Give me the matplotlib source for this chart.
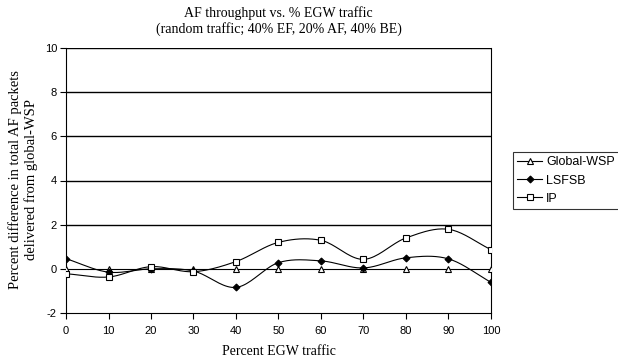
import numpy as np
import matplotlib
matplotlib.use("Agg")
import matplotlib.pyplot as plt

plt.rcParams["axes.unicode_minus"] = False

# Dados
egw = [0, 10, 20, 30, 40, 50, 60, 70, 80, 90, 100]
global_wsp = [0, 0, 0, 0, 0, 0, 0, 0, 0, 0, 0]
lsfsb = [0.46, -0.15, 0.0, -0.1, -0.84, 0.28, 0.36, 0.04, 0.5, 0.45, -0.61]
ip = [-0.22, -0.37, 0.1, -0.13, 0.33, 1.2, 1.29, 0.43, 1.4, 1.79, 0.87]


# Linha suavizada estilo Excel (Catmull-Rom)
def smooth(x, y, n=20):
    x = np.asarray(x, float)
    y = np.asarray(y, float)
    px = np.concatenate([[2 * x[0] - x[1]], x, [2 * x[-1] - x[-2]]])
    py = np.concatenate([[2 * y[0] - y[1]], y, [2 * y[-1] - y[-2]]])
    xs, ys = [], []
    t = np.linspace(0, 1, n, endpoint=False)
    for i in range(1, len(px) - 2):
        for p, out in ((px, xs), (py, ys)):
            p0, p1, p2, p3 = p[i - 1], p[i], p[i + 1], p[i + 2]
            out.extend(0.5 * (2 * p1 + (-p0 + p2) * t
                              + (2 * p0 - 5 * p1 + 4 * p2 - p3) * t ** 2
                              + (-p0 + 3 * p1 - 3 * p2 + p3) * t ** 3))
    xs.append(x[-1])
    ys.append(y[-1])
    return xs, ys


serif = "Liberation Serif"
sans = "Liberation Sans"
W, H = 618, 360

fig = plt.figure(figsize=(6.18, 3.6), dpi=100)
ax = fig.add_axes([66 / W, 1 - 313 / H, 425 / W, 265 / H])

for yy in [2, 4, 6, 8, 10]:
    ax.axhline(yy, color="black", lw=1.0, zorder=1)

series = [
    ("Global-WSP", global_wsp, dict(marker="^", mfc="white", ms=5)),
    ("LSFSB", lsfsb, dict(marker="D", mfc="black", ms=3.5)),
    ("IP", ip, dict(marker="s", mfc="white", ms=5)),
]
for name, vals, st in series:
    sx, sy = smooth(egw, vals)
    ax.plot(sx, sy, color="black", lw=0.8, zorder=2)
    ax.plot(egw, vals, ls="none", mec="black", mew=0.8, zorder=3, **st)
    ax.plot([], [], color="black", lw=0.8, mec="black", mew=0.8, label=name, **st)

ax.set_xlim(0, 100)
ax.set_ylim(-2, 10)
ax.set_xticks(egw)
ax.set_yticks([-2, 0, 2, 4, 6, 8, 10])
ax.tick_params(direction="out", length=4.5, width=0.8, labelsize=8)
ax.tick_params(axis="x", pad=5)
ax.tick_params(axis="y", pad=2)
for lab in ax.get_xticklabels() + ax.get_yticklabels():
    lab.set_family(sans)
for s in ax.spines.values():
    s.set_linewidth(0.8)
ax.spines["top"].set_visible(False)

# Titulo em duas linhas
cx = 0.5 * (66 + 491) / W
fig.text(cx, 1 - 13 / H, "AF throughput vs. % EGW traffic",
         family=serif, fontsize=10, ha="center", va="center")
fig.text(cx, 1 - 29 / H, "(random traffic; 40% EF, 20% AF, 40% BE)",
         family=serif, fontsize=10, ha="center", va="center")

ax.set_xlabel("Percent EGW traffic", family=serif, fontsize=10, labelpad=6)
fig.text(15 / W, 1 - 180 / H, "Percent difference in total AF packets",
         family=serif, fontsize=10.5, rotation=90, ha="center", va="center")
fig.text(31 / W, 1 - 180 / H, "delivered from global-WSP",
         family=serif, fontsize=10.5, rotation=90, ha="center", va="center")

leg = fig.legend(loc="center left", bbox_to_anchor=(513 / W, 1 - 180.5 / H),
                 prop={"family": sans, "size": 9}, frameon=True, fancybox=False,
                 edgecolor="black", borderpad=0.35, labelspacing=0.5,
                 handlelength=2.0, handletextpad=0.3, borderaxespad=0)
leg.get_frame().set_linewidth(0.8)

plt.savefig("out.png", dpi=100)
